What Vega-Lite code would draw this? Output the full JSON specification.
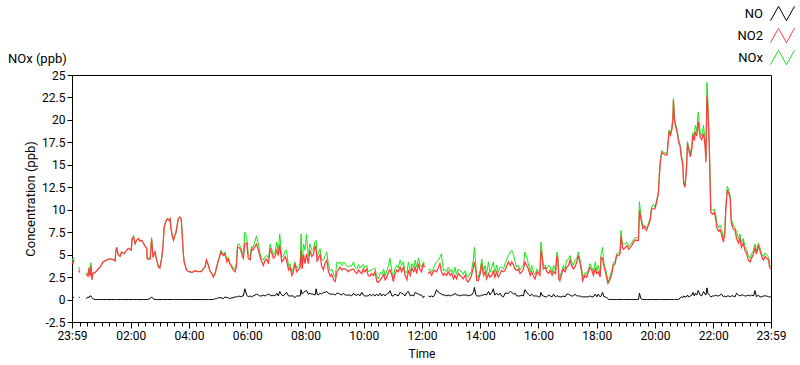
{
"$schema": "https://vega.github.io/schema/vega-lite/v6.json",
"width": 699, "height": 247,
"autosize": {"type": "none"},
"padding": {"left": 72, "top": 75, "right": 29, "bottom": 43},
"background": "white",
"config": {"font": "Roboto", "view": {"stroke": "#000000", "strokeWidth": 1}},
"title": {"text": "NOx (ppb)", "anchor": "start", "frame": "group", "dx": -64, "dy": 77, "offset": 12, "fontSize": 13, "fontWeight": "normal", "color": "#000000", "font": "Roboto"},
"data": {"values": [
{"t":-1,"NO":0.3,"NO2":4.2,"NOx":4.6},{"t":1,"NO":0.2,"NO2":4.0,"NOx":4.3},{"t":3,"NO":0.3,"NO2":4.4,"NOx":4.7},{"t":5,"NO":null,"NO2":null,"NOx":null},
{"t":13,"NO":0.3,"NO2":3.3,"NOx":3.6},{"t":15,"NO":0.2,"NO2":3.0,"NOx":3.3},{"t":18,"NO":null,"NO2":null,"NOx":null},
{"t":28,"NO":0.1,"NO2":2.8,"NOx":2.9},{"t":32,"NO":0.3,"NO2":2.6,"NOx":2.9},{"t":34,"NO":0.2,"NO2":3.4,"NOx":3.6},{"t":36,"NO":0.4,"NO2":2.6,"NOx":3.0},{"t":38,"NO":0.4,"NO2":3.8,"NOx":4.1},{"t":40,"NO":0.2,"NO2":2.2,"NOx":2.4},{"t":42,"NO":0.1,"NO2":2.9,"NOx":3.0},
{"t":46,"NO":0.0,"NO2":3.0,"NOx":3.0},{"t":50,"NO":0.0,"NO2":3.2,"NOx":3.2},{"t":53,"NO":0.0,"NO2":3.4,"NOx":3.4},{"t":57,"NO":0.0,"NO2":3.6,"NOx":3.6},{"t":61,"NO":0.0,"NO2":4.0,"NOx":4.0},{"t":63,"NO":0.0,"NO2":4.2,"NOx":4.2},{"t":67,"NO":0.0,"NO2":4.3,"NOx":4.3},{"t":70,"NO":0.0,"NO2":4.4,"NOx":4.4},{"t":75,"NO":0.0,"NO2":4.5,"NOx":4.5},{"t":81,"NO":0.0,"NO2":4.5,"NOx":4.5},{"t":86,"NO":0.0,"NO2":4.4,"NOx":4.4},{"t":88,"NO":0.0,"NO2":4.3,"NOx":4.3},{"t":89,"NO":0.0,"NO2":5.3,"NOx":5.4},{"t":91,"NO":0.0,"NO2":5.8,"NOx":5.8},{"t":94,"NO":0.0,"NO2":5.0,"NOx":5.1},{"t":98,"NO":0.0,"NO2":4.8,"NOx":4.8},
{"t":101,"NO":0.0,"NO2":5.3,"NOx":5.3},{"t":106,"NO":0.0,"NO2":5.1,"NOx":5.1},{"t":110,"NO":0.0,"NO2":5.4,"NOx":5.4},{"t":115,"NO":0.0,"NO2":5.7,"NOx":5.7},{"t":121,"NO":0.0,"NO2":5.5,"NOx":5.5},{"t":123,"NO":0.0,"NO2":6.8,"NOx":6.8},{"t":126,"NO":0.0,"NO2":7.0,"NOx":7.1},{"t":129,"NO":0.0,"NO2":6.2,"NOx":6.2},{"t":132,"NO":0.0,"NO2":6.6,"NOx":6.6},{"t":136,"NO":0.0,"NO2":6.8,"NOx":6.8},{"t":139,"NO":0.0,"NO2":6.5,"NOx":6.5},{"t":143,"NO":0.0,"NO2":6.6,"NOx":6.6},{"t":146,"NO":0.0,"NO2":6.3,"NOx":6.3},{"t":149,"NO":0.0,"NO2":6.0,"NOx":6.0},{"t":153,"NO":0.0,"NO2":5.7,"NOx":5.7},{"t":154,"NO":0.0,"NO2":4.5,"NOx":4.6},
{"t":160,"NO":0.1,"NO2":4.5,"NOx":4.6},{"t":163,"NO":0.3,"NO2":6.7,"NOx":6.9},{"t":166,"NO":0.1,"NO2":4.7,"NOx":4.8},{"t":170,"NO":0.0,"NO2":5.3,"NOx":5.3},{"t":173,"NO":0.0,"NO2":4.5,"NOx":4.5},{"t":177,"NO":0.0,"NO2":3.6,"NOx":3.7},{"t":180,"NO":0.0,"NO2":3.5,"NOx":3.6},{"t":184,"NO":0.0,"NO2":4.7,"NOx":4.7},{"t":186,"NO":0.0,"NO2":5.7,"NOx":5.7},{"t":189,"NO":0.0,"NO2":8.1,"NOx":8.1},{"t":193,"NO":0.0,"NO2":8.8,"NOx":8.8},{"t":196,"NO":0.0,"NO2":9.0,"NOx":9.0},{"t":199,"NO":0.0,"NO2":8.8,"NOx":8.8},
{"t":201,"NO":0.0,"NO2":9.0,"NOx":9.0},{"t":203,"NO":0.0,"NO2":7.9,"NOx":7.9},{"t":206,"NO":0.0,"NO2":7.0,"NOx":7.0},{"t":208,"NO":0.0,"NO2":6.6,"NOx":6.6},{"t":210,"NO":0.0,"NO2":7.0,"NOx":7.0},{"t":213,"NO":0.0,"NO2":7.4,"NOx":7.4},{"t":215,"NO":0.0,"NO2":8.1,"NOx":8.1},{"t":218,"NO":0.0,"NO2":9.0,"NOx":9.0},{"t":221,"NO":0.0,"NO2":9.2,"NOx":9.2},{"t":224,"NO":0.0,"NO2":9.0,"NOx":9.0},{"t":226,"NO":0.0,"NO2":7.3,"NOx":7.3},{"t":228,"NO":0.0,"NO2":5.3,"NOx":5.3},{"t":230,"NO":0.0,"NO2":4.2,"NOx":4.2},{"t":235,"NO":0.0,"NO2":3.3,"NOx":3.3},{"t":239,"NO":0.0,"NO2":3.1,"NOx":3.1},
{"t":242,"NO":0.0,"NO2":3.1,"NOx":3.1},{"t":246,"NO":0.0,"NO2":3.0,"NOx":3.0},{"t":252,"NO":0.0,"NO2":3.2,"NOx":3.2},{"t":259,"NO":0.0,"NO2":3.1,"NOx":3.1},{"t":266,"NO":0.0,"NO2":3.1,"NOx":3.2},{"t":269,"NO":0.0,"NO2":3.4,"NOx":3.4},{"t":273,"NO":0.0,"NO2":3.6,"NOx":3.6},{"t":276,"NO":0.0,"NO2":4.4,"NOx":4.4},{"t":280,"NO":0.0,"NO2":3.8,"NOx":3.8},{"t":283,"NO":0.0,"NO2":3.2,"NOx":3.2},{"t":287,"NO":0.0,"NO2":2.9,"NOx":2.9},{"t":290,"NO":0.0,"NO2":2.5,"NOx":2.5},{"t":294,"NO":0.1,"NO2":2.9,"NOx":3.0},{"t":297,"NO":0.1,"NO2":3.6,"NOx":3.7},
{"t":300,"NO":0.2,"NO2":4.2,"NOx":4.3},{"t":306,"NO":0.2,"NO2":5.3,"NOx":5.5},{"t":311,"NO":0.1,"NO2":4.9,"NOx":5.0},{"t":314,"NO":0.3,"NO2":5.1,"NOx":5.3},{"t":318,"NO":0.2,"NO2":4.2,"NOx":4.4},{"t":321,"NO":0.2,"NO2":4.5,"NOx":4.7},{"t":324,"NO":0.1,"NO2":4.0,"NOx":4.1},{"t":328,"NO":0.2,"NO2":3.6,"NOx":3.8},{"t":331,"NO":0.2,"NO2":3.3,"NOx":3.5},{"t":335,"NO":0.3,"NO2":3.1,"NOx":3.4},{"t":338,"NO":0.3,"NO2":3.8,"NOx":4.1},{"t":340,"NO":0.3,"NO2":5.8,"NOx":6.1},{"t":343,"NO":0.4,"NO2":5.8,"NOx":6.2},{"t":347,"NO":0.3,"NO2":5.5,"NOx":5.8},{"t":350,"NO":0.4,"NO2":4.8,"NOx":5.2},{"t":352,"NO":0.4,"NO2":4.6,"NOx":5.0},{"t":355,"NO":1.2,"NO2":6.2,"NOx":7.5},{"t":359,"NO":0.5,"NO2":6.3,"NOx":7.0},
{"t":362,"NO":0.3,"NO2":4.6,"NOx":5.0},{"t":366,"NO":0.4,"NO2":4.4,"NOx":4.8},{"t":369,"NO":0.3,"NO2":5.7,"NOx":5.9},{"t":372,"NO":0.4,"NO2":5.5,"NOx":5.8},{"t":376,"NO":0.5,"NO2":5.9,"NOx":6.5},{"t":379,"NO":0.6,"NO2":6.2,"NOx":7.1},{"t":383,"NO":0.5,"NO2":5.5,"NOx":6.2},{"t":386,"NO":0.4,"NO2":4.8,"NOx":5.2},{"t":390,"NO":0.4,"NO2":4.2,"NOx":4.6},{"t":393,"NO":0.5,"NO2":3.8,"NOx":4.4},{"t":397,"NO":0.4,"NO2":4.4,"NOx":4.8},
{"t":400,"NO":0.5,"NO2":4.5,"NOx":4.9},{"t":404,"NO":0.6,"NO2":4.0,"NOx":4.6},{"t":407,"NO":0.5,"NO2":5.7,"NOx":6.2},{"t":411,"NO":0.4,"NO2":5.1,"NOx":5.5},{"t":414,"NO":0.5,"NO2":4.6,"NOx":5.0},{"t":417,"NO":0.4,"NO2":4.8,"NOx":5.2},{"t":421,"NO":0.7,"NO2":5.5,"NOx":6.4},{"t":424,"NO":0.4,"NO2":4.9,"NOx":5.3},{"t":427,"NO":0.9,"NO2":6.1,"NOx":7.3},{"t":431,"NO":0.5,"NO2":4.2,"NOx":4.7},{"t":434,"NO":0.4,"NO2":4.4,"NOx":4.8},{"t":438,"NO":0.6,"NO2":4.8,"NOx":5.4},{"t":441,"NO":0.8,"NO2":4.4,"NOx":5.5},{"t":445,"NO":0.4,"NO2":3.3,"NOx":3.7},{"t":448,"NO":0.4,"NO2":3.6,"NOx":4.0},
{"t":452,"NO":0.4,"NO2":2.7,"NOx":3.1},{"t":455,"NO":0.4,"NO2":3.1,"NOx":3.5},{"t":458,"NO":0.2,"NO2":4.0,"NOx":4.2},{"t":462,"NO":0.4,"NO2":3.1,"NOx":3.5},{"t":465,"NO":0.4,"NO2":3.3,"NOx":3.7},{"t":469,"NO":0.4,"NO2":3.6,"NOx":4.0},{"t":471,"NO":1.1,"NO2":5.5,"NOx":7.3},{"t":473,"NO":0.6,"NO2":3.4,"NOx":4.0},{"t":476,"NO":0.8,"NO2":5.0,"NOx":6.2},{"t":479,"NO":0.9,"NO2":4.0,"NOx":5.5},{"t":482,"NO":1.0,"NO2":5.1,"NOx":7.3},{"t":486,"NO":0.6,"NO2":4.0,"NOx":4.8},{"t":489,"NO":0.7,"NO2":5.5,"NOx":6.2},{"t":493,"NO":0.6,"NO2":4.8,"NOx":5.5},{"t":496,"NO":0.6,"NO2":5.0,"NOx":5.6},
{"t":500,"NO":0.5,"NO2":6.0,"NOx":6.5},{"t":502,"NO":1.2,"NO2":5.5,"NOx":6.6},{"t":504,"NO":0.6,"NO2":4.2,"NOx":4.8},{"t":506,"NO":0.5,"NO2":4.6,"NOx":5.1},{"t":510,"NO":0.7,"NO2":5.0,"NOx":5.7},{"t":513,"NO":0.6,"NO2":3.8,"NOx":4.4},{"t":517,"NO":0.8,"NO2":3.3,"NOx":4.4},{"t":520,"NO":0.8,"NO2":4.0,"NOx":4.8},{"t":524,"NO":0.9,"NO2":4.4,"NOx":5.3},{"t":527,"NO":0.7,"NO2":3.2,"NOx":4.0},{"t":531,"NO":0.6,"NO2":2.6,"NOx":3.2},{"t":534,"NO":0.6,"NO2":2.8,"NOx":3.4},{"t":538,"NO":0.6,"NO2":2.2,"NOx":2.8},{"t":541,"NO":0.5,"NO2":2.0,"NOx":2.5},{"t":545,"NO":0.7,"NO2":3.1,"NOx":4.2},{"t":548,"NO":0.7,"NO2":3.3,"NOx":4.0},
{"t":551,"NO":0.6,"NO2":3.6,"NOx":4.2},{"t":555,"NO":0.5,"NO2":3.3,"NOx":3.8},{"t":558,"NO":0.7,"NO2":3.4,"NOx":4.2},{"t":562,"NO":0.5,"NO2":3.4,"NOx":3.9},{"t":565,"NO":0.5,"NO2":3.3,"NOx":3.8},{"t":568,"NO":0.5,"NO2":3.1,"NOx":3.6},{"t":572,"NO":0.5,"NO2":3.3,"NOx":3.8},{"t":575,"NO":0.4,"NO2":3.3,"NOx":3.7},{"t":579,"NO":0.7,"NO2":3.4,"NOx":4.2},{"t":582,"NO":0.5,"NO2":3.1,"NOx":3.6},{"t":586,"NO":0.5,"NO2":2.9,"NOx":3.4},{"t":589,"NO":0.6,"NO2":3.3,"NOx":3.9},{"t":592,"NO":0.4,"NO2":3.1,"NOx":3.5},{"t":596,"NO":0.8,"NO2":2.9,"NOx":3.8},{"t":599,"NO":0.5,"NO2":3.4,"NOx":3.9},
{"t":602,"NO":0.4,"NO2":3.1,"NOx":3.5},{"t":606,"NO":0.4,"NO2":3.4,"NOx":3.8},{"t":609,"NO":0.4,"NO2":2.7,"NOx":3.1},{"t":613,"NO":0.6,"NO2":2.6,"NOx":3.2},{"t":616,"NO":0.4,"NO2":2.9,"NOx":3.3},{"t":620,"NO":0.6,"NO2":2.7,"NOx":3.4},{"t":623,"NO":0.4,"NO2":3.1,"NOx":3.5},{"t":627,"NO":0.6,"NO2":2.0,"NOx":2.6},{"t":630,"NO":0.4,"NO2":1.9,"NOx":2.3},{"t":634,"NO":0.7,"NO2":2.2,"NOx":3.0},{"t":637,"NO":0.4,"NO2":2.4,"NOx":2.8},{"t":641,"NO":0.6,"NO2":2.8,"NOx":3.4},{"t":644,"NO":0.4,"NO2":2.2,"NOx":2.6},{"t":647,"NO":0.6,"NO2":2.4,"NOx":3.1},
{"t":651,"NO":0.7,"NO2":3.1,"NOx":3.8},{"t":654,"NO":1.0,"NO2":3.3,"NOx":4.6},{"t":658,"NO":0.4,"NO2":2.7,"NOx":3.1},{"t":661,"NO":0.4,"NO2":2.0,"NOx":2.4},{"t":664,"NO":0.6,"NO2":2.8,"NOx":3.4},{"t":668,"NO":0.5,"NO2":3.3,"NOx":3.8},{"t":671,"NO":0.4,"NO2":3.1,"NOx":3.5},{"t":675,"NO":0.8,"NO2":3.6,"NOx":4.4},{"t":678,"NO":0.7,"NO2":3.1,"NOx":3.8},{"t":682,"NO":0.6,"NO2":3.6,"NOx":4.2},{"t":685,"NO":0.4,"NO2":2.7,"NOx":3.1},{"t":689,"NO":0.8,"NO2":2.2,"NOx":3.0},{"t":692,"NO":0.9,"NO2":3.3,"NOx":4.2},{"t":696,"NO":0.4,"NO2":2.7,"NOx":3.1},{"t":699,"NO":0.5,"NO2":3.5,"NOx":4.0},
{"t":703,"NO":0.4,"NO2":3.1,"NOx":3.5},{"t":706,"NO":0.8,"NO2":3.6,"NOx":4.4},{"t":709,"NO":0.7,"NO2":2.9,"NOx":3.6},{"t":713,"NO":0.6,"NO2":4.0,"NOx":4.6},{"t":716,"NO":0.5,"NO2":3.3,"NOx":3.8},{"t":719,"NO":0.5,"NO2":3.1,"NOx":3.6},{"t":723,"NO":0.2,"NO2":4.0,"NOx":4.2},{"t":725,"NO":0.4,"NO2":3.6,"NOx":4.0},{"t":728,"NO":null,"NO2":null,"NOx":null},
{"t":733,"NO":0.4,"NO2":2.9,"NOx":3.3},{"t":736,"NO":0.3,"NO2":3.1,"NOx":3.4},{"t":740,"NO":0.4,"NO2":2.7,"NOx":3.1},{"t":743,"NO":0.3,"NO2":3.1,"NOx":3.4},{"t":746,"NO":0.5,"NO2":3.25,"NOx":3.8},{"t":750,"NO":1.1,"NO2":3.1,"NOx":4.2},{"t":754,"NO":0.8,"NO2":3.6,"NOx":4.4},{"t":757,"NO":0.7,"NO2":4.0,"NOx":4.7},{"t":760,"NO":0.6,"NO2":3.1,"NOx":5.1},{"t":764,"NO":0.5,"NO2":2.7,"NOx":3.2},{"t":767,"NO":0.5,"NO2":2.9,"NOx":3.4},{"t":771,"NO":0.4,"NO2":2.7,"NOx":3.1},{"t":774,"NO":0.5,"NO2":3.1,"NOx":3.6},{"t":778,"NO":0.4,"NO2":2.7,"NOx":3.1},{"t":781,"NO":0.5,"NO2":2.9,"NOx":3.4},{"t":785,"NO":0.5,"NO2":2.3,"NOx":2.8},{"t":788,"NO":0.7,"NO2":2.7,"NOx":3.6},{"t":791,"NO":0.5,"NO2":2.3,"NOx":2.8},{"t":795,"NO":0.5,"NO2":2.9,"NOx":3.4},{"t":798,"NO":0.4,"NO2":2.7,"NOx":3.2},
{"t":802,"NO":0.5,"NO2":2.5,"NOx":3.1},{"t":805,"NO":0.5,"NO2":2.3,"NOx":2.8},{"t":809,"NO":0.5,"NO2":2.7,"NOx":3.2},{"t":812,"NO":0.5,"NO2":2.1,"NOx":2.6},{"t":815,"NO":0.4,"NO2":1.95,"NOx":2.5},{"t":819,"NO":0.5,"NO2":2.3,"NOx":2.8},{"t":822,"NO":0.5,"NO2":2.7,"NOx":3.2},{"t":826,"NO":0.8,"NO2":3.6,"NOx":4.5},{"t":828,"NO":1.35,"NO2":4.2,"NOx":5.8},{"t":831,"NO":0.5,"NO2":3.25,"NOx":3.7},{"t":833,"NO":0.4,"NO2":2.1,"NOx":2.5},{"t":836,"NO":0.4,"NO2":2.1,"NOx":2.5},{"t":840,"NO":0.4,"NO2":2.9,"NOx":3.3},{"t":843,"NO":0.5,"NO2":4.0,"NOx":4.5},{"t":847,"NO":0.5,"NO2":2.7,"NOx":3.2},
{"t":850,"NO":0.6,"NO2":3.1,"NOx":3.8},{"t":853,"NO":0.5,"NO2":2.3,"NOx":2.8},{"t":857,"NO":0.9,"NO2":2.9,"NOx":4.2},{"t":860,"NO":0.5,"NO2":2.5,"NOx":3.0},{"t":864,"NO":0.8,"NO2":2.7,"NOx":3.6},{"t":867,"NO":1.2,"NO2":3.25,"NOx":4.2},{"t":870,"NO":0.5,"NO2":2.5,"NOx":3.0},{"t":874,"NO":0.7,"NO2":3.1,"NOx":3.8},{"t":877,"NO":0.5,"NO2":2.5,"NOx":3.0},{"t":881,"NO":0.7,"NO2":2.9,"NOx":3.6},{"t":884,"NO":0.4,"NO2":3.25,"NOx":3.6},{"t":888,"NO":0.3,"NO2":3.1,"NOx":3.4},{"t":891,"NO":0.7,"NO2":3.25,"NOx":4.0},{"t":895,"NO":0.7,"NO2":3.8,"NOx":4.5},{"t":898,"NO":0.7,"NO2":4.2,"NOx":4.9},
{"t":902,"NO":0.9,"NO2":3.8,"NOx":5.3},{"t":905,"NO":0.8,"NO2":4.2,"NOx":5.5},{"t":909,"NO":0.6,"NO2":3.8,"NOx":4.9},{"t":912,"NO":0.7,"NO2":3.4,"NOx":4.2},{"t":915,"NO":0.4,"NO2":3.25,"NOx":3.6},{"t":919,"NO":0.4,"NO2":3.4,"NOx":3.8},{"t":922,"NO":0.4,"NO2":2.9,"NOx":3.3},{"t":926,"NO":0.5,"NO2":3.1,"NOx":3.6},{"t":929,"NO":0.4,"NO2":3.4,"NOx":3.8},{"t":932,"NO":1.1,"NO2":4.2,"NOx":5.3},{"t":936,"NO":0.8,"NO2":3.8,"NOx":4.7},{"t":939,"NO":0.6,"NO2":3.4,"NOx":4.0},{"t":943,"NO":0.4,"NO2":2.7,"NOx":3.1},{"t":946,"NO":0.6,"NO2":3.1,"NOx":3.8},
{"t":950,"NO":0.4,"NO2":2.6,"NOx":3.0},{"t":953,"NO":0.4,"NO2":2.3,"NOx":2.8},{"t":957,"NO":0.4,"NO2":3.1,"NOx":3.4},{"t":960,"NO":0.3,"NO2":2.9,"NOx":3.2},{"t":963,"NO":0.3,"NO2":2.7,"NOx":3.0},{"t":965,"NO":0.8,"NO2":5.5,"NOx":6.4},{"t":967,"NO":0.5,"NO2":4.9,"NOx":5.4},{"t":970,"NO":0.4,"NO2":3.4,"NOx":3.8},{"t":974,"NO":0.3,"NO2":3.6,"NOx":3.8},{"t":977,"NO":0.3,"NO2":3.1,"NOx":3.4},{"t":981,"NO":0.5,"NO2":2.9,"NOx":3.8},{"t":984,"NO":0.4,"NO2":3.25,"NOx":3.6},{"t":988,"NO":0.3,"NO2":2.7,"NOx":3.0},{"t":991,"NO":0.6,"NO2":3.1,"NOx":3.8},{"t":995,"NO":0.3,"NO2":2.9,"NOx":3.2},{"t":998,"NO":0.4,"NO2":4.9,"NOx":5.3},
{"t":1000,"NO":0.4,"NO2":4.4,"NOx":4.8},{"t":1002,"NO":0.3,"NO2":2.3,"NOx":2.6},{"t":1004,"NO":0.3,"NO2":2.1,"NOx":2.5},{"t":1008,"NO":0.3,"NO2":2.9,"NOx":3.2},{"t":1011,"NO":0.4,"NO2":3.4,"NOx":3.8},{"t":1015,"NO":0.3,"NO2":3.1,"NOx":3.4},{"t":1018,"NO":0.6,"NO2":3.6,"NOx":4.4},{"t":1022,"NO":0.6,"NO2":3.8,"NOx":4.5},{"t":1025,"NO":0.5,"NO2":4.4,"NOx":4.9},{"t":1028,"NO":0.4,"NO2":3.8,"NOx":4.2},{"t":1032,"NO":0.4,"NO2":3.4,"NOx":3.8},{"t":1035,"NO":0.6,"NO2":3.6,"NOx":4.4},{"t":1039,"NO":0.4,"NO2":4.2,"NOx":4.6},{"t":1042,"NO":0.4,"NO2":4.9,"NOx":5.3},{"t":1045,"NO":0.4,"NO2":4.2,"NOx":4.6},{"t":1049,"NO":0.3,"NO2":3.1,"NOx":3.4},
{"t":1051,"NO":0.3,"NO2":2.1,"NOx":2.5},{"t":1056,"NO":0.3,"NO2":2.7,"NOx":3.0},{"t":1059,"NO":0.3,"NO2":2.5,"NOx":2.9},{"t":1063,"NO":0.3,"NO2":3.1,"NOx":3.4},{"t":1066,"NO":0.4,"NO2":3.6,"NOx":4.0},{"t":1070,"NO":0.3,"NO2":3.25,"NOx":3.6},{"t":1073,"NO":0.3,"NO2":2.7,"NOx":3.1},{"t":1077,"NO":0.6,"NO2":3.4,"NOx":4.2},{"t":1080,"NO":0.3,"NO2":2.9,"NOx":3.2},{"t":1083,"NO":0.6,"NO2":3.1,"NOx":3.8},{"t":1087,"NO":0.3,"NO2":2.5,"NOx":2.8},{"t":1089,"NO":0.4,"NO2":4.7,"NOx":5.1},{"t":1092,"NO":0.8,"NO2":4.55,"NOx":5.8},{"t":1095,"NO":0.3,"NO2":3.6,"NOx":4.0},{"t":1098,"NO":0.3,"NO2":3.1,"NOx":3.4},
{"t":1101,"NO":0.2,"NO2":2.3,"NOx":2.7},{"t":1103,"NO":0.1,"NO2":1.8,"NOx":2.0},{"t":1105,"NO":0.0,"NO2":1.95,"NOx":2.2},{"t":1109,"NO":0.0,"NO2":2.5,"NOx":2.9},{"t":1111,"NO":0.0,"NO2":2.9,"NOx":3.2},{"t":1114,"NO":0.0,"NO2":3.8,"NOx":4.1},{"t":1118,"NO":0.0,"NO2":4.0,"NOx":4.3},{"t":1121,"NO":0.0,"NO2":4.9,"NOx":5.1},{"t":1125,"NO":0.0,"NO2":4.9,"NOx":5.2},{"t":1128,"NO":0.0,"NO2":5.1,"NOx":5.4},{"t":1130,"NO":0.0,"NO2":7.1,"NOx":7.7},{"t":1133,"NO":0.0,"NO2":5.8,"NOx":6.1},{"t":1135,"NO":0.0,"NO2":5.6,"NOx":6.2},{"t":1139,"NO":0.0,"NO2":5.8,"NOx":6.2},{"t":1142,"NO":0.0,"NO2":6.0,"NOx":6.4},{"t":1146,"NO":0.0,"NO2":5.6,"NOx":5.9},
{"t":1149,"NO":0.0,"NO2":5.8,"NOx":6.1},{"t":1152,"NO":0.0,"NO2":6.0,"NOx":6.3},{"t":1156,"NO":0.0,"NO2":6.4,"NOx":6.7},{"t":1159,"NO":0.0,"NO2":6.6,"NOx":6.9},{"t":1162,"NO":0.0,"NO2":6.6,"NOx":6.9},{"t":1166,"NO":0.0,"NO2":6.6,"NOx":6.9},{"t":1168,"NO":0.7,"NO2":9.9,"NOx":10.9},{"t":1171,"NO":0.1,"NO2":9.0,"NOx":9.3},{"t":1175,"NO":0.0,"NO2":7.9,"NOx":8.2},{"t":1178,"NO":0.0,"NO2":8.1,"NOx":8.3},{"t":1182,"NO":0.0,"NO2":7.7,"NOx":8.0},{"t":1184,"NO":0.0,"NO2":7.9,"NOx":8.1},{"t":1186,"NO":0.0,"NO2":8.2,"NOx":8.4},{"t":1190,"NO":0.0,"NO2":8.8,"NOx":9.0},{"t":1193,"NO":0.0,"NO2":10.1,"NOx":10.3},{"t":1197,"NO":0.0,"NO2":10.1,"NOx":10.6},
{"t":1200,"NO":0.0,"NO2":10.1,"NOx":10.3},{"t":1204,"NO":0.0,"NO2":11.0,"NOx":11.2},{"t":1207,"NO":0.0,"NO2":11.8,"NOx":12.0},{"t":1209,"NO":0.0,"NO2":13.8,"NOx":14.0},{"t":1211,"NO":0.0,"NO2":15.3,"NOx":15.5},{"t":1214,"NO":0.0,"NO2":16.4,"NOx":16.6},{"t":1218,"NO":0.0,"NO2":16.2,"NOx":16.4},{"t":1221,"NO":0.0,"NO2":16.1,"NOx":16.3},{"t":1225,"NO":0.0,"NO2":16.1,"NOx":16.3},{"t":1227,"NO":0.0,"NO2":17.4,"NOx":17.6},{"t":1229,"NO":0.0,"NO2":18.7,"NOx":18.9},{"t":1232,"NO":0.0,"NO2":18.3,"NOx":18.5},{"t":1235,"NO":0.0,"NO2":19.0,"NOx":19.3},{"t":1237,"NO":0.0,"NO2":20.1,"NOx":20.5},{"t":1238,"NO":0.0,"NO2":22.2,"NOx":22.4},{"t":1240,"NO":0.0,"NO2":20.1,"NOx":20.3},{"t":1242,"NO":0.0,"NO2":19.4,"NOx":19.6},{"t":1246,"NO":0.0,"NO2":18.5,"NOx":18.8},{"t":1249,"NO":0.0,"NO2":17.5,"NOx":17.7},
{"t":1252,"NO":0.2,"NO2":17.0,"NOx":17.2},{"t":1254,"NO":0.3,"NO2":15.9,"NOx":16.1},{"t":1257,"NO":0.2,"NO2":15.1,"NOx":15.4},{"t":1259,"NO":0.4,"NO2":12.9,"NOx":13.2},{"t":1262,"NO":0.3,"NO2":12.5,"NOx":12.8},{"t":1265,"NO":0.3,"NO2":14.6,"NOx":14.9},{"t":1267,"NO":0.5,"NO2":17.4,"NOx":17.6},{"t":1269,"NO":0.3,"NO2":16.8,"NOx":17.0},{"t":1273,"NO":0.4,"NO2":15.9,"NOx":16.3},{"t":1276,"NO":0.5,"NO2":16.8,"NOx":17.2},{"t":1278,"NO":0.8,"NO2":18.3,"NOx":18.6},{"t":1281,"NO":0.4,"NO2":17.7,"NOx":18.0},{"t":1283,"NO":0.7,"NO2":18.7,"NOx":19.4},{"t":1286,"NO":0.5,"NO2":18.2,"NOx":18.7},{"t":1289,"NO":1.0,"NO2":19.8,"NOx":20.9},{"t":1293,"NO":0.5,"NO2":18.1,"NOx":18.6},{"t":1296,"NO":0.4,"NO2":17.8,"NOx":18.2},
{"t":1300,"NO":0.9,"NO2":18.5,"NOx":19.4},{"t":1303,"NO":0.6,"NO2":17.2,"NOx":17.8},{"t":1305,"NO":0.5,"NO2":15.3,"NOx":15.8},{"t":1307,"NO":1.3,"NO2":22.7,"NOx":24.2},{"t":1309,"NO":0.7,"NO2":21.3,"NOx":22.0},{"t":1312,"NO":0.5,"NO2":16.6,"NOx":17.1},{"t":1314,"NO":0.4,"NO2":12.0,"NOx":12.4},{"t":1315,"NO":0.3,"NO2":9.7,"NOx":10.0},{"t":1319,"NO":0.4,"NO2":9.5,"NOx":9.9},{"t":1322,"NO":0.4,"NO2":9.7,"NOx":10.1},{"t":1325,"NO":0.5,"NO2":9.0,"NOx":9.5},{"t":1328,"NO":0.4,"NO2":7.9,"NOx":8.3},{"t":1331,"NO":0.4,"NO2":7.6,"NOx":8.0},{"t":1334,"NO":0.5,"NO2":7.8,"NOx":8.3},{"t":1337,"NO":0.6,"NO2":7.3,"NOx":7.9},{"t":1341,"NO":0.3,"NO2":6.4,"NOx":6.7},{"t":1344,"NO":0.4,"NO2":7.5,"NOx":7.9},{"t":1346,"NO":0.3,"NO2":10.1,"NOx":10.4},{"t":1349,"NO":0.4,"NO2":12.2,"NOx":12.6},
{"t":1352,"NO":0.4,"NO2":11.8,"NOx":12.2},{"t":1355,"NO":0.3,"NO2":11.2,"NOx":11.5},{"t":1357,"NO":0.4,"NO2":8.6,"NOx":9.0},{"t":1361,"NO":0.4,"NO2":7.9,"NOx":8.3},{"t":1365,"NO":0.3,"NO2":7.7,"NOx":8.0},{"t":1368,"NO":0.7,"NO2":6.8,"NOx":7.5},{"t":1372,"NO":0.5,"NO2":6.3,"NOx":6.8},{"t":1375,"NO":0.4,"NO2":6.9,"NOx":7.3},{"t":1378,"NO":0.5,"NO2":5.8,"NOx":6.3},{"t":1382,"NO":0.5,"NO2":6.3,"NOx":6.8},{"t":1385,"NO":0.4,"NO2":5.5,"NOx":5.9},{"t":1389,"NO":0.4,"NO2":5.1,"NOx":5.5},{"t":1392,"NO":0.5,"NO2":4.4,"NOx":4.9},{"t":1396,"NO":0.4,"NO2":4.2,"NOx":4.6},{"t":1399,"NO":0.5,"NO2":4.6,"NOx":5.1},
{"t":1403,"NO":0.4,"NO2":5.1,"NOx":5.5},{"t":1406,"NO":1.0,"NO2":5.8,"NOx":6.2},{"t":1409,"NO":0.3,"NO2":5.1,"NOx":5.4},{"t":1413,"NO":0.5,"NO2":6.0,"NOx":6.3},{"t":1416,"NO":0.3,"NO2":5.5,"NOx":5.8},{"t":1420,"NO":0.3,"NO2":4.8,"NOx":5.1},{"t":1423,"NO":0.4,"NO2":4.4,"NOx":4.8},{"t":1427,"NO":0.4,"NO2":4.8,"NOx":5.2},{"t":1430,"NO":0.4,"NO2":4.6,"NOx":5.0},{"t":1434,"NO":0.3,"NO2":4.4,"NOx":4.7},{"t":1436,"NO":0.3,"NO2":3.6,"NOx":3.9},{"t":1439,"NO":0.3,"NO2":3.4,"NOx":3.7}
]},
"transform": [{"fold": ["NOx", "NO2", "NO"], "as": ["series", "value"]}],
"encoding": {
  "x": {"field": "t", "type": "quantitative", "title": "Time",
    "scale": {"domain": [-1, 1439], "nice": false, "zero": false},
    "axis": {"values": [-1,15,30,45,60,75,90,105,120,135,150,165,180,195,210,225,240,255,270,285,300,315,330,345,360,375,390,405,420,435,450,465,480,495,510,525,540,555,570,585,600,615,630,645,660,675,690,705,720,735,750,765,780,795,810,825,840,855,870,885,900,915,930,945,960,975,990,1005,1020,1035,1050,1065,1080,1095,1110,1125,1140,1155,1170,1185,1200,1215,1230,1245,1260,1275,1290,1305,1320,1335,1350,1365,1380,1395,1410,1425,1439],
      "labelExpr": "datum.value == -1 || datum.value == 1439 ? '23:59' : (datum.value % 120 == 0 ? (datum.value < 600 ? '0' : '') + floor(datum.value / 60) + ':00' : '')",
      "tickSize": {"condition": {"test": "datum.value % 120 == 0 || datum.value == -1 || datum.value == 1439", "value": 6}, "value": 4},
      "domain": false, "grid": false, "tickColor": "#000000", "labelColor": "#000000", "labelFontSize": 12, "labelPadding": 2,
      "labelFlush": false, "labelOverlap": false, "titleColor": "#000000", "titleFontSize": 12, "titleFontWeight": "normal", "titlePadding": 7}},
  "y": {"field": "value", "type": "quantitative", "title": "Concentration (ppb)",
    "scale": {"domain": [-2.5, 25], "nice": false, "zero": false},
    "axis": {"values": [-2.5,0,2.5,5,7.5,10,12.5,15,17.5,20,22.5,25], "labelExpr": "datum.value + ''",
      "domain": false, "grid": false, "tickSize": 5, "tickColor": "#000000", "labelColor": "#000000", "labelFontSize": 12, "labelPadding": 2,
      "labelFlush": false, "titleColor": "#000000", "titleFontSize": 13, "titleFontWeight": "normal", "titlePadding": 4}},
  "color": {"field": "series", "type": "nominal",
    "scale": {"domain": ["NO", "NO2", "NOx"], "range": ["#000000", "#ff4040", "#18e818"]},
    "legend": {"orient": "none", "legendX": 698, "legendY": -74, "title": null,
      "symbolType": "M-1,0.6L-0.33,-0.6L0.33,0.6L1,-0.6", "symbolSize": 576, "symbolStrokeWidth": 1, "symbolFillColor": "transparent",
      "labelAlign": "right", "labelOffset": -32, "labelFontSize": 13, "labelColor": "#000000", "rowPadding": -1}}
},
"layer": [
  {"transform": [{"filter": "datum.series == 'NOx'"}], "mark": {"type": "line", "strokeWidth": 1, "clip": true}},
  {"transform": [{"filter": "datum.series == 'NO2'"}], "mark": {"type": "line", "strokeWidth": 1.3, "clip": true}},
  {"transform": [{"filter": "datum.series == 'NO'"}], "mark": {"type": "line", "strokeWidth": 1, "clip": true}}
]
}
